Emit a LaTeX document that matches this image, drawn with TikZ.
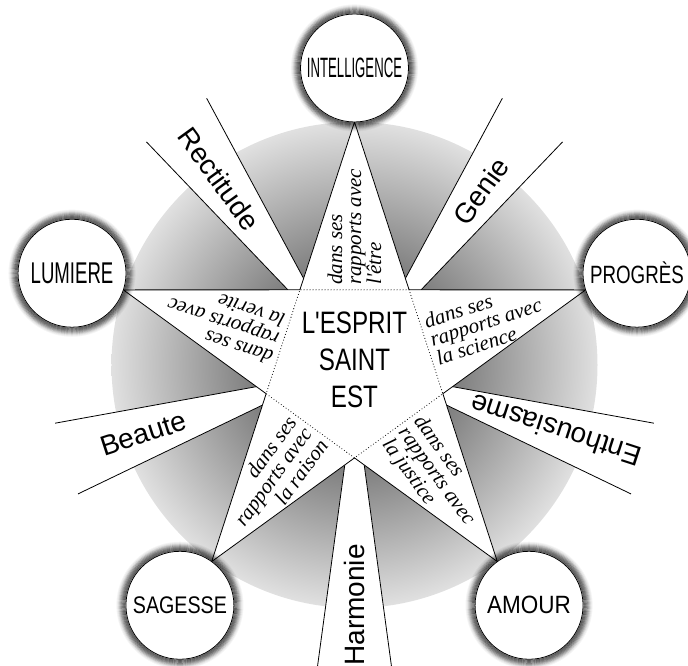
\documentclass[tikz,border=0pt]{standalone}
\usepackage{fontspec}
\usepackage{graphicx}
\setmainfont{Liberation Sans}
\newfontfamily\armfont{Liberation Serif}
\usetikzlibrary{calc}
\pgfdeclareradialshading{diskshade}{\pgfpoint{0bp}{0bp}}{color(0bp)=(black!72); color(10bp)=(black!52); color(25bp)=(black!12); color(50bp)=(black!12)}
\newcommand{\clab}[3]{\scalebox{#2}[1]{\fontsize{#1}{#1}\selectfont #3}}
\tikzset{
  edgeline/.style={line width=0.8pt, black},
  pentdot/.style={line width=1.1pt, dash pattern=on 0pt off 3pt, line cap=round},
  armtext/.style={font=\armfont\itshape\fontsize{21}{19}\selectfont, inner sep=1pt},
  raylabel/.style={font=\fontsize{28}{30}\selectfont, inner sep=1pt},
  bigcircle/.style={circle, draw=black, line width=0.8pt, fill=white, minimum size=108pt, inner sep=0pt},
}
\begin{document}
\begin{tikzpicture}[x=1pt,y=1pt]
\useasboundingbox (-354.5,-301) rectangle (333.5,365);
% shaded disk
\shade[shading=diskshade] (0,0) circle (243);
% star coordinates
\foreach \a/\n in {90/t1,18/t2,306/t3,234/t4,162/t5} \coordinate (\n) at (\a:243);
\foreach \a/\n in {54/v1,342/v2,270/v3,198/v4,126/v5} \coordinate (\n) at (\a:92.9);
% wedges
\foreach \v/\p/\ta/\tb in {v1/54/t1/t2, v2/342/t2/t3, v3/270/t3/t4, v4/198/t4/t5, v5/126/t5/t1} {
  \pgfmathsetmacro\pa{\p+7}
  \pgfmathsetmacro\pb{\p-7}
  \coordinate (wa) at ($(\v)!12pt!(\ta)$);
  \coordinate (wb) at ($(\v)!12pt!(\tb)$);
  \coordinate (oa) at (\pa:305);
  \coordinate (ob) at (\pb:305);
  \fill[white] (\v) -- (wa) -- (oa) -- (ob) -- (wb) -- cycle;
  \draw[edgeline] (wa) -- (oa) (wb) -- (ob);
}
% star
\fill[white] (t1) -- (v1) -- (t2) -- (v2) -- (t3) -- (v3) -- (t4) -- (v4) -- (t5) -- (v5) -- cycle;
\draw[edgeline, line join=miter] (t1) -- (v1) -- (t2) -- (v2) -- (t3) -- (v3) -- (t4) -- (v4) -- (t5) -- (v5) -- cycle;
\draw[pentdot] (v1) -- (v2) -- (v3) -- (v4) -- (v5) -- cycle;
% circles with halo
\foreach \a/\n in {90/cI,18/cP,306/cA,234/cS,162/cL} {
  \coordinate (\n) at (\a:297);
  \foreach \i/\o in {1/0.6,2/0.55,3/0.5,4/0.42,5/0.33,6/0.24,7/0.15,8/0.08,9/0.04}
    \draw[black, opacity=\o, line width=1.1pt] (\n) circle (54+\i);
}
\node[bigcircle] (intel) at (cI) {\clab{28}{0.47}{INTELLIGENCE}};
\node[bigcircle] (progres) at (cP) {\clab{25}{0.75}{PROGRÈS}};
\node[bigcircle] (amour) at (cA) {\clab{25}{0.9}{AMOUR}};
\node[bigcircle] (sagesse) at (cS) {\clab{24}{0.82}{SAGESSE}};
\node[bigcircle] (lumiere) at (cL) {\clab{30}{0.62}{LUMIERE}};
% centre text
\node (ctr) at (0,2) {\scalebox{0.78}[1]{\fontsize{31}{37}\selectfont\begin{tabular}{@{}c@{}}L\textquotesingle ESPRIT\\SAINT\\EST\end{tabular}}};
% arm texts
\node[armtext, rotate=90, anchor=west, align=left] (a1) at (90:79) {dans ses\\rapports avec\\l'être};
\node[armtext, rotate=18, anchor=west, align=left] (a2) at (18:79) {dans ses\\rapports avec\\la science};
\node[armtext, rotate=-54, anchor=west, align=left] (a3) at (306:79) {dans ses\\rapports avec\\la justice};
\node[armtext, rotate=54, anchor=east, align=right] (a4) at (234:79) {dans ses\\rapports avec\\la raison};
\node[armtext, rotate=162, anchor=west, align=left] (a5) at (162:79) {dans ses\\rapports avec\\la verite};
% ray labels
\node[raylabel, rotate=54] (genie) at (54:215) {Genie};
\node[raylabel, rotate=162] (enth) at (342:212) {Enthousiasme};
\node[raylabel, rotate=90] (harm) at (270:240) {Harmonie};
\node[raylabel, rotate=18] (beau) at (198:222) {Beaute};
\node[raylabel, rotate=-54] (rect) at (126:230) {Rectitude};
\end{tikzpicture}
\end{document}
